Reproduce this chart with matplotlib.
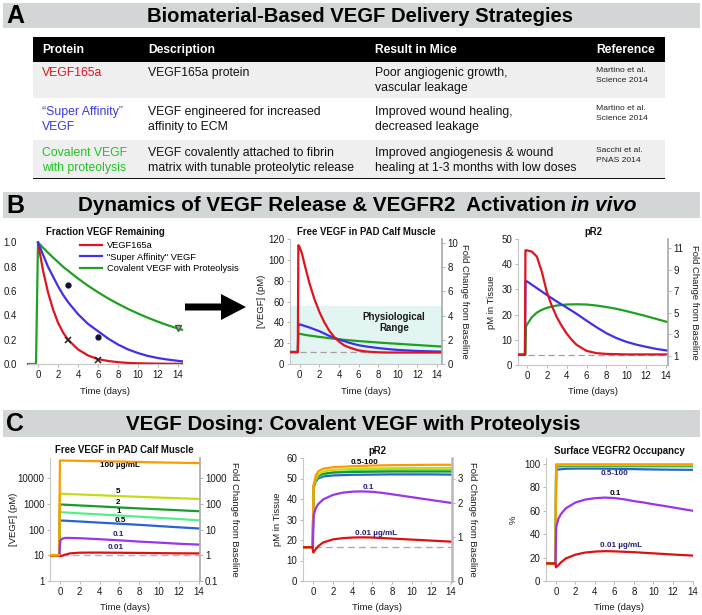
import matplotlib
matplotlib.use('Agg')
import matplotlib.pyplot as plt
from matplotlib.patches import Rectangle, Polygon
from matplotlib.ticker import FixedLocator, FixedFormatter, NullLocator

plt.rcParams['font.family'] = ['Liberation Sans', 'DejaVu Sans']

# ---------------- data ----------------
# Panel A table
table_header = ["Protein", "Description", "Result in Mice", "Reference"]
table_protein = [["VEGF165a"], ["\u201cSuper Affinity\u201d", "VEGF"], ["Covalent VEGF", "with proteolysis"]]
table_desc = [["VEGF165a protein"], ["VEGF engineered for increased", "affinity to ECM"],
              ["VEGF covalently attached to fibrin", "matrix with tunable proteolytic release"]]
table_result = [["Poor angiogenic growth,", "vascular leakage"], ["Improved wound healing,", "decreased leakage"],
                ["Improved angiogenesis & wound", "healing at 1-3 months with low doses"]]
table_ref = [["Martino et al.", "Science 2014"], ["Martino et al.", "Science 2014"], ["Sacchi et al.", "PNAS 2014"]]

# Panel B1: fraction VEGF remaining
b1_t = [0, 0.5, 1, 1.5, 2, 2.5, 3, 4, 5, 6, 7, 8, 9, 10, 11, 12, 13, 14, 14.4]
b1_red = [1.0, 0.77, 0.59, 0.45, 0.34, 0.26, 0.20, 0.12, 0.07, 0.04, 0.025, 0.015, 0.009, 0.006, 0.004, 0.003, 0.002, 0.002, 0.002]
b1_blue = [1.0, 0.90, 0.80, 0.72, 0.64, 0.57, 0.51, 0.41, 0.33, 0.27, 0.21, 0.16, 0.12, 0.09, 0.066, 0.049, 0.036, 0.026, 0.022]
b1_green_t = [-1, -0.2, 0, 0.5, 1, 1.5, 2, 2.5, 3, 4, 5, 6, 7, 8, 9, 10, 11, 12, 13, 14, 14.4]
b1_green = [0, 0, 1.0, 0.957, 0.916, 0.876, 0.839, 0.80, 0.768, 0.703, 0.644, 0.59, 0.54, 0.495, 0.453,
            0.415, 0.38, 0.348, 0.318, 0.292, 0.282]
b1_pts_sa_t, b1_pts_sa = [3, 6], [0.65, 0.22]
b1_pts_165_t, b1_pts_165 = [3, 6], [0.20, 0.03]
b1_pts_cov_t, b1_pts_cov = [14], [0.30]
b1_labels = ["VEGF165a", "\"Super Affinity\" VEGF", "Covalent VEGF with Proteolysis"]

# Panel B2: free VEGF (pM)
b2_base = 11.5
b2_red_t = [-1, -0.2, -0.15, 0, 0.25, 0.5, 1, 1.5, 2, 2.5, 3, 3.5, 4, 4.5, 5, 6, 7, 8, 9, 10, 12, 14, 14.5]
b2_red = [11.5, 11.5, 114, 112, 105, 95, 77, 62, 50, 40, 32, 26, 21.5, 18, 16, 13, 11.8, 11.2, 11, 11, 11, 11, 11]
b2_blue_t = [-1, -0.2, -0.15, 0, 0.5, 1, 2, 3, 4, 5, 6, 7, 8, 9, 10, 11, 12, 13, 14, 14.5]
b2_blue = [11.5, 11.5, 38, 38, 36.5, 35, 31.5, 27, 23.5, 20.5, 18, 16.5, 15.3, 14.3, 13.5, 13, 12.5, 12.2, 12, 11.9]
b2_green_t = [-1, -0.2, -0.15, 0, 0.5, 1, 2, 3, 4, 5, 6, 7, 8, 9, 10, 11, 12, 13, 14, 14.5]
b2_green = [11.5, 11.5, 29, 29, 28, 27.3, 26, 24.8, 23.7, 22.8, 22, 21.3, 20.6, 20, 19.4, 18.8, 18.2, 17.6, 17, 16.8]
b2_physio = [0, 56]
b2_fold_ticks = [0, 2, 4, 6, 8, 10]
b2_fold_base = 11.62

# Panel B3: pR2 (pM)
b3_base = 4.1
b3_red_t = [-1, -0.2, -0.15, 0, 0.5, 1, 1.5, 2, 2.5, 3, 3.5, 4, 4.5, 5, 6, 7, 8, 10, 14.2]
b3_red = [4.1, 4.1, 45.5, 45.5, 45, 43, 37, 29, 23.5, 19, 15.5, 12.5, 10, 8, 5.6, 4.7, 4.4, 4.2, 4.2]
b3_blue_t = [-1, -0.2, -0.15, 0, 1, 2, 3, 4, 5, 6, 7, 8, 9, 10, 11, 12, 13, 14, 14.2]
b3_blue = [4.1, 4.1, 33.2, 33.2, 30.5, 27.8, 25.2, 22.8, 20.3, 17.6, 15, 12.6, 10.7, 9.2, 8.1, 7.2, 6.4, 5.8, 5.7]
b3_green_t = [-1, -0.15, -0.1, 0, 0.25, 0.5, 1, 1.5, 2, 3, 4, 5, 6, 7, 8, 9, 10, 11, 12, 13, 14, 14.2]
b3_green = [4.1, 4.1, 15.3, 16, 17.5, 19, 20.8, 21.9, 22.7, 23.6, 24, 24.1, 24, 23.6, 23, 22.3, 21.4, 20.4,
            19.4, 18.3, 17.2, 17]
b3_fold_ticks = [1, 3, 5, 7, 9, 11]

# Panel C: doses (ug/mL)
c_doses = ["0.5", "1", "2", "5", "100"]
c_colors = ["#2763d6", "#55ee88", "#1a9a2a", "#c4dc16", "#ff9900"]

# C1: free VEGF (pM, log)
c1_base = 10
c1_t = [-1, -0.07, 0, 1, 2, 4, 6, 8, 10, 12, 14]
c1_high = {
    "0.5": [10, 10, 225, 215, 205, 185, 168, 152, 136, 122, 110],
    "1": [10, 10, 470, 450, 425, 385, 350, 315, 285, 255, 230],
    "2": [10, 10, 940, 900, 860, 790, 720, 660, 610, 560, 515],
    "5": [10, 10, 2460, 2380, 2300, 2140, 2000, 1860, 1740, 1640, 1540],
    "100": [10, 10, 48000, 47300, 46500, 45000, 43500, 42000, 40500, 39200, 38000],
}
c1_p1_t = [-0.07, 0.05, 0.25, 0.5, 1, 2, 4, 6, 8, 10, 12, 14]
c1_p1 = [10, 38, 44, 47, 47, 46, 42, 38, 34, 31, 28, 26]
c1_p01_t = [-1, -0.1, 0, 0.25, 0.5, 1, 2, 4, 6, 8, 10, 12, 14]
c1_p01 = [10, 10, 9.2, 9.6, 10.5, 11.8, 12.6, 12.7, 12.5, 12.3, 12.1, 11.9, 11.8]

# C2: pR2 (pM)
c2_base = 16.5
c2_t = [-1, -0.07, 0.03, 0.25, 0.5, 1, 2, 4, 6, 8, 10, 12, 14]
c2_high = {
    "0.5": [16.5, 16.5, 45.5, 48.5, 50, 51, 51.5, 51.8, 51.9, 52, 52, 52, 51.9],
    "1": [16.5, 16.5, 46, 49, 50.8, 52, 53, 53.7, 54, 54.2, 54.3, 54.3, 54.3],
    "2": [16.5, 16.5, 46.2, 49.5, 51.2, 52.3, 52.9, 53.2, 53.3, 53.4, 53.4, 53.4, 53.4],
    "5": [16.5, 16.5, 46.5, 50, 52, 53.4, 54.2, 54.7, 54.9, 55, 55.1, 55.1, 55.1],
    "100": [16.5, 16.5, 47, 51.5, 53.5, 54.8, 55.5, 56, 56.3, 56.5, 56.6, 56.7, 56.7],
}
c2_p1_t = [-0.05, 0.03, 0.25, 0.5, 1, 2, 3, 4, 5, 6, 7, 8, 9, 10, 11, 12, 13, 14]
c2_p1 = [16.5, 32, 35.5, 37.5, 39.8, 42, 43.1, 43.6, 43.7, 43.5, 43, 42.3, 41.6, 40.9, 40.2, 39.5, 38.8, 38.1]
c2_p01_t = [-1, -0.1, 0, 0.25, 0.5, 1, 2, 3, 4, 5, 6, 8, 10, 12, 14]
c2_p01 = [16.5, 16.5, 13.9, 15.5, 17, 18.8, 20.3, 20.9, 21.2, 21.3, 21.2, 20.7, 20.2, 19.7, 19.2]
c2_fold_pos = [0, 21.5, 38, 50]
c2_fold_lab = ["0", "1", "2", "3"]

# C3: surface VEGFR2 occupancy (%)
c3_t = [-1, -0.05, 0.02, 1, 2, 4, 6, 8, 10, 12, 14]
c3_high = {
    "0.5": [15, 15, 95, 95.8, 96, 96, 95.8, 95.5, 95.2, 95, 94.9],
    "1": [15, 15, 97.5, 97.7, 97.7, 97.7, 97.7, 97.7, 97.7, 97.7, 97.7],
    "2": [15, 15, 98.3, 98.5, 98.5, 98.5, 98.5, 98.5, 98.5, 98.5, 98.5],
    "5": [15, 15, 99, 99, 99, 99, 99, 99, 99, 99, 99],
    "100": [15, 15, 99.6, 99.6, 99.6, 99.6, 99.6, 99.6, 99.6, 99.6, 99.6],
}
c3_p1_t = [-0.05, 0.03, 0.25, 0.5, 1, 2, 3, 4, 5, 6, 7, 8, 9, 10, 11, 12, 13, 14]
c3_p1 = [15, 46, 53, 57, 62, 67, 69.5, 70.7, 71.2, 70.8, 69.7, 68.2, 67, 65.5, 64.2, 62.8, 61.4, 60]
c3_p01_t = [-1, -0.05, 0, 0.25, 0.5, 1, 2, 3, 4, 5, 6, 8, 10, 12, 14]
c3_p01 = [15, 15, 11.7, 13.5, 15.8, 19.2, 22.5, 24.3, 25.1, 25.5, 25.3, 24.6, 23.6, 22.6, 21.7]

time_ticks = [0, 2, 4, 6, 8, 10, 12, 14]

# ---------------- figure ----------------
W, H = 702, 615
fig = plt.figure(figsize=(W / 100, H / 100), dpi=100)
fig.patch.set_facecolor('white')


def fx(x):
    return x / W


def fy(y):
    return 1 - y / H


def px_axes(l, t, r, b):
    return fig.add_axes([l / W, 1 - b / H, (r - l) / W, (b - t) / H])


RED, BLUE, GREEN = '#e0141e', '#4030e8', '#20a020'
PURPLE, CRED = '#9a35ec', '#dd1111'
NAVY = '#1f1f7a'
TICK = 7
LAB = 6.8
TTL = 6.9
LW = 1.6


def rect(x0, y0, x1, y1, color, z=0):
    fig.patches.append(Rectangle((fx(x0), fy(y1)), (x1 - x0) / W, (y1 - y0) / H,
                                 transform=fig.transFigure, facecolor=color, edgecolor='none', zorder=z))


renderer = fig.canvas.get_renderer()


def fit_title(parts, cx, cy, width):
    objs = []
    for txt, st in parts:
        objs.append(fig.text(0, fy(cy), txt, fontsize=13, weight='bold', style=st, va='center', ha='left'))
    ws = [o.get_window_extent(renderer).width for o in objs]
    gap = 4 if len(objs) > 1 else 0
    total = sum(ws) + gap * (len(objs) - 1)
    scale = width / total
    for o in objs:
        o.set_fontsize(13 * scale)
    ws = [o.get_window_extent(renderer).width for o in objs]
    gap *= scale
    total = sum(ws) + gap * (len(objs) - 1)
    x = cx - total / 2
    for o, w in zip(objs, ws):
        o.set_x(fx(x))
        x += w + gap


def header(y0, y1, letter, parts, cx, width):
    rect(3, y0, 700, y1, '#d3d6d6')
    fig.text(fx(15), fy((y0 + y1) / 2 + 0.5), letter, fontsize=18, weight='bold', ha='center', va='center')
    fit_title(parts, cx, (y0 + y1) / 2 + 0.5, width)


# ---- Panel A ----
header(3, 28, "A", [("Biomaterial-Based VEGF Delivery Strategies", 'normal')], 360, 426)
rect(33, 37, 665, 62, 'black')
rect(33, 62, 665, 98, '#efefef')
rect(33, 98, 665, 140, 'white')
rect(33, 140, 665, 177.5, '#efefef')
rect(33, 177.5, 665, 179, '#111111')
col_x = [42, 148, 375, 596]
for x, h in zip(col_x, table_header):
    fig.text(fx(x), fy(50), h, color='white', fontsize=8.7, weight='bold', va='center', ha='left')
row_y = [(73, 88), (112, 127), (153, 168)]
ref_y = [(71, 81), (109, 119), (151, 161)]
prot_col = [RED, '#3a3ae0', '#22c322']
for i in range(3):
    for j, s in enumerate(table_protein[i]):
        fig.text(fx(col_x[0]), fy(row_y[i][j]), s, color=prot_col[i], fontsize=8.8, va='center')
    for j, s in enumerate(table_desc[i]):
        fig.text(fx(col_x[1]), fy(row_y[i][j]), s, color='#111111', fontsize=8.8, va='center')
    for j, s in enumerate(table_result[i]):
        fig.text(fx(col_x[2]), fy(row_y[i][j]), s, color='#111111', fontsize=8.8, va='center')
    for j, s in enumerate(table_ref[i]):
        fig.text(fx(col_x[3]), fy(ref_y[i][j]), s, color='#222222', fontsize=6.1, va='center')

# ---- Panel B / C headers ----
header(192, 218, "B", [("Dynamics of VEGF Release & VEGFR2  Activation", 'normal'), ("in vivo", 'italic')],
       357, 555)
header(410, 437, "C", [("VEGF Dosing: Covalent VEGF with Proteolysis", 'normal')], 353, 453)


def style(ax, left=True):
    for s in ['top', 'right']:
        ax.spines[s].set_visible(False)
    ax.spines['left'].set_visible(left)
    ax.spines['left'].set_color('#c8c8c8')
    ax.spines['bottom'].set_color('#c8c8c8')
    ax.spines['left'].set_linewidth(0.8)
    ax.spines['bottom'].set_linewidth(0.8)
    ax.tick_params(labelsize=TICK, length=2, width=0.6, color='#aaaaaa', pad=2, labelcolor='#1a1a1a')
    ax.set_xticks(time_ticks)
    ax.patch.set_alpha(0)


def twin_right(ax, color='#a8a8a8', lw=1.2):
    tw = ax.twinx()
    for s in ['top', 'left', 'bottom']:
        tw.spines[s].set_visible(False)
    tw.spines['right'].set_color(color)
    tw.spines['right'].set_linewidth(lw)
    tw.tick_params(labelsize=TICK, length=2, width=0.6, color='#aaaaaa', pad=2, labelcolor='#1a1a1a')
    return tw


def ylab(ax, text, x_px, l, r, rot=90):
    ax.set_ylabel(text, fontsize=LAB, rotation=rot, color='#1a1a1a')
    ax.yaxis.set_label_coords((x_px - l) / (r - l), 0.5)
    ax.yaxis.label.set_va('center')
    ax.yaxis.label.set_ha('center')


def xlab(ax, y_px, t, b):
    ax.set_xlabel("Time (days)", fontsize=LAB, color='#1a1a1a')
    ax.xaxis.set_label_coords(0.5, (b - y_px) / (b - t))
    ax.xaxis.label.set_va('center')


def title(ax, text, y_px, t, b):
    ax.text(0.5, (b - y_px) / (b - t), text, transform=ax.transAxes, fontsize=TTL, weight='bold',
            ha='center', va='center', color='#111111')


# ---- B1 ----
L, T, R, B = 28, 240, 183, 364
b1 = px_axes(L, T, R, B)
style(b1, left=False)
b1.set_xlim(-1, 14.5)
b1.set_ylim(0, 1.02)
b1.set_yticks([0, 0.2, 0.4, 0.6, 0.8, 1.0])
b1.yaxis.set_major_formatter(matplotlib.ticker.FormatStrFormatter('%.1f'))
b1.tick_params(axis='y', length=0, pad=8)
l1, = b1.plot(b1_t, b1_red, color=RED, lw=LW, zorder=3)
l2, = b1.plot(b1_t, b1_blue, color=BLUE, lw=LW, zorder=3)
l3, = b1.plot(b1_green_t, b1_green, color=GREEN, lw=LW, zorder=2, clip_on=False)
b1.plot(b1_pts_sa_t, b1_pts_sa, 'o', color='#111133', ms=3.5, zorder=4)
b1.plot(b1_pts_165_t, b1_pts_165, 'x', color='#222222', ms=4.5, mew=1.1, zorder=4)
b1.plot(b1_pts_cov_t, b1_pts_cov, 'v', color='#88bb88', mec='#445544', ms=4, zorder=4)
title(b1, "Fraction VEGF Remaining", 232, T, B)
xlab(b1, 391, T, B)
b1.legend([l1, l2, l3], b1_labels, loc='upper left', bbox_to_anchor=((80 - L) / (R - L), (B - 241) / (B - T)),
          frameon=False, fontsize=6.7, handlelength=2.4, handletextpad=0.5, labelspacing=0.28,
          borderpad=0, borderaxespad=0)

# arrow
pts = [(185, 303.5), (221, 303.5), (221, 294), (246, 307), (221, 320), (221, 310.5), (185, 310.5)]
fig.patches.append(Polygon([(fx(a), fy(b)) for a, b in pts], closed=True, transform=fig.transFigure,
                           facecolor='black', edgecolor='none'))

# ---- B2 ----
L, T, R, B = 290, 239, 442, 364
b2 = px_axes(L, T, R, B)
style(b2)
b2.set_xlim(-1, 14.5)
b2.set_ylim(0, 120)
b2.set_yticks([0, 20, 40, 60, 80, 100, 120])
b2.axhspan(b2_physio[0], b2_physio[1], color='#e2f5f3', zorder=0, lw=0)
b2.axhline(b2_base, color='#a0a0a0', lw=0.9, ls=(0, (5, 3)), zorder=1)
b2.plot(b2_green_t, b2_green, color=GREEN, lw=LW, zorder=3)
b2.plot(b2_blue_t, b2_blue, color=BLUE, lw=LW, zorder=3)
b2.plot(b2_red_t, b2_red, color=RED, lw=LW, zorder=4)
b2.text(9.6, 40, "Physiological\nRange", fontsize=7, weight='bold', ha='center', va='center',
        color='#1a1a1a', linespacing=1.05)
title(b2, "Free VEGF in PAD Calf Muscle", 232, T, B)
xlab(b2, 391, T, B)
ylab(b2, "[VEGF] (pM)", 262, L, R)
tw = twin_right(b2)
tw.set_ylim(0, 120 / b2_fold_base)
tw.set_yticks(b2_fold_ticks)
ylab(tw, "Fold Change from Baseline", 465, L, R, rot=-90)

# ---- B3 ----
L, T, R, B = 518, 239, 668, 365
b3 = px_axes(L, T, R, B)
style(b3)
b3.set_xlim(-0.9, 14.2)
b3.set_ylim(0, 50)
b3.set_yticks([0, 10, 20, 30, 40, 50])
b3.axhline(b3_base - 0.2, color='#a0a0a0', lw=0.9, ls=(0, (5, 3)), zorder=1)
b3.plot(b3_green_t, b3_green, color=GREEN, lw=LW, zorder=3)
b3.plot(b3_blue_t, b3_blue, color=BLUE, lw=LW, zorder=3)
b3.plot(b3_red_t, b3_red, color=RED, lw=LW, zorder=4)
title(b3, "pR2", 232, T, B)
xlab(b3, 391, T, B)
ylab(b3, "pM in Tissue", 491, L, R)
tw = twin_right(b3)
tw.set_ylim((0 - 3.7) / 4.27 + 1, (50 - 3.7) / 4.27 + 1)
tw.set_yticks(b3_fold_ticks)
ylab(tw, "Fold Change from Baseline", 695, L, R, rot=-90)

# ---- C1 ----
L, T, R, B = 50, 458, 199.5, 581
c1 = px_axes(L, T, R, B)
style(c1)
c1.set_yscale('log')
c1.set_xlim(-1, 14.1)
c1.set_ylim(1, 60000)
c1.set_yticks([1, 10, 100, 1000, 10000])
c1.set_yticklabels(["1", "10", "100", "1000", "10000"])
c1.yaxis.set_minor_locator(NullLocator())
c1.axhline(c1_base, color='#b4a8dc', lw=1.0, ls=(0, (5, 3)), zorder=1)
for d, col in zip(c_doses, c_colors):
    c1.plot(c1_t, c1_high[d], color=col, lw=LW, zorder=3)
c1.plot(c1_p1_t, c1_p1, color=PURPLE, lw=LW, zorder=3)
c1.plot(c1_p01_t, c1_p01, color=CRED, lw=LW, zorder=3)
c1.plot(c1_t[:2], c1_high["100"][:2], color=c_colors[-1], lw=LW, zorder=5)
for txt, tx, ty, col in [("100 \u00b5g/mL", 6.1, 29900, 'black'), ("5", 5.9, 3050, 'black'),
                         ("2", 5.9, 1080, 'black'), ("1", 5.9, 500, 'black'), ("0.5", 6.1, 230, 'black'),
                         ("0.1", 5.9, 63, NAVY), ("0.01", 5.6, 20.5, NAVY)]:
    c1.text(tx, ty, txt, fontsize=5.8, weight='bold', ha='center', va='center', color=col, zorder=6)
title(c1, "Free VEGF in PAD Calf Muscle", 450, T, B)
xlab(c1, 608, T, B)
ylab(c1, "[VEGF] (pM)", 13, L, R)
tw = twin_right(c1)
tw.set_yscale('log')
tw.set_ylim(0.1, 6000)
tw.set_yticks([0.1, 1, 10, 100, 1000])
tw.set_yticklabels(["0.1", "1", "10", "100", "1000"])
tw.yaxis.set_minor_locator(NullLocator())
ylab(tw, "Fold Change from Baseline", 234, L, R, rot=-90)

# ---- C2 ----
L, T, R, B = 303, 458, 452, 581
c2 = px_axes(L, T, R, B)
style(c2)
c2.set_xlim(-1.05, 14.1)
c2.set_ylim(0, 60)
c2.set_yticks([0, 10, 20, 30, 40, 50, 60])
c2.axhline(c2_base, color='#a8a8c8', lw=1.0, ls=(0, (5, 3)), zorder=1)
for d, col in zip(c_doses, c_colors):
    c2.plot(c2_t, c2_high[d], color=col, lw=LW, zorder=3)
c2.plot(c2_p1_t, c2_p1, color=PURPLE, lw=LW, zorder=3)
c2.plot(c2_p01_t, c2_p01, color=CRED, lw=LW, zorder=3)
for txt, tx, ty, col in [("0.5-100", 5.24, 57.8, 'black'), ("0.1", 5.6, 45.8, NAVY),
                         ("0.01 \u00b5g/mL", 6.4, 23.3, NAVY)]:
    c2.text(tx, ty, txt, fontsize=5.8, weight='bold', ha='center', va='center', color=col, zorder=6)
title(c2, "pR2", 451, T, B)
xlab(c2, 608, T, B)
ylab(c2, "pM in Tissue", 277, L, R)
tw = twin_right(c2, color='#b8b8b8', lw=1.8)
tw.set_ylim(0, 60)
tw.yaxis.set_major_locator(FixedLocator(c2_fold_pos))
tw.yaxis.set_major_formatter(FixedFormatter(c2_fold_lab))
ylab(tw, "Fold Change from Baseline", 472, L, R, rot=-90)

# ---- C3 ----
L, T, R, B = 546, 458, 693, 581
c3 = px_axes(L, T, R, B)
style(c3)
c3.set_xlim(-1.02, 14.05)
c3.set_ylim(0, 105)
c3.set_yticks([0, 20, 40, 60, 80, 100])
for d, col in zip(c_doses, c_colors):
    c3.plot(c3_t, c3_high[d], color=col, lw=LW, zorder=3)
c3.plot(c3_p1_t, c3_p1, color=PURPLE, lw=LW, zorder=3)
c3.plot(c3_p01_t, c3_p01, color=CRED, lw=LW, zorder=3)
for txt, tx, ty, col in [("0.5-100", 6.0, 92, NAVY), ("0.1", 6.1, 74.4, 'black'),
                         ("0.01 \u00b5g/mL", 6.7, 30.2, NAVY)]:
    c3.text(tx, ty, txt, fontsize=5.8, weight='bold', ha='center', va='center', color=col, zorder=6)
title(c3, "Surface VEGFR2 Occupancy", 451, T, B)
xlab(c3, 608, T, B)
ylab(c3, "%", 513, L, R)

fig.savefig('out.png', dpi=100, facecolor='white')
